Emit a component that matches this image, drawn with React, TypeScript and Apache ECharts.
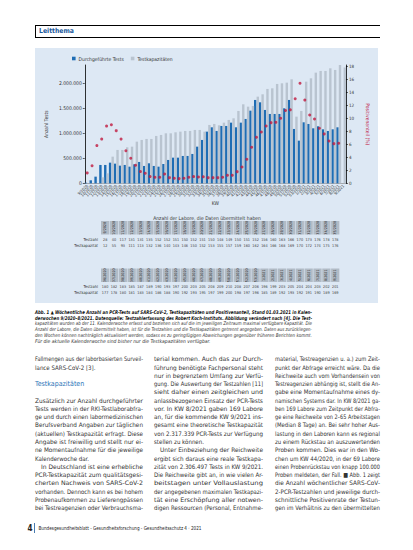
import React, { useEffect, useRef } from "react";
import * as echarts from "echarts";

// ---------- chart data ----------
const weeks = [
  "9/2020", "10/2020", "11/2020", "12/2020", "13/2020", "14/2020", "15/2020", "16/2020", "17/2020",
  "18/2020", "19/2020", "20/2020", "21/2020", "22/2020", "23/2020", "24/2020", "25/2020", "26/2020",
  "27/2020", "28/2020", "29/2020", "30/2020", "31/2020", "32/2020", "33/2020", "34/2020", "35/2020",
  "36/2020", "37/2020", "38/2020", "39/2020", "40/2020", "41/2020", "42/2020", "43/2020", "44/2020",
  "45/2020", "46/2020", "47/2020", "48/2020", "49/2020", "50/2020", "51/2020", "52/2020", "53/2020",
  "1/2021", "2/2021", "3/2021", "4/2021", "5/2021", "6/2021", "7/2021", "8/2021", "9/2021",
];

const testsDone = [
  12000, 60000, 133000, 367000, 367000, 413000, 393000, 353000, 367000,
  333000, 380000, 427000, 347000, 400000, 347000, 333000, 387000, 467000,
  513000, 513000, 547000, 547000, 587000, 733000, 867000, 1033000, 1120000,
  1047000, 1147000, 1147000, 1213000, 1120000, 1213000, 1287000, 1453000, 1667000,
  1620000, 1467000, 1387000, 1387000, 1387000, 1500000, 1667000, 1087000, 853000,
  1220000, 1187000, 1100000, 1140000, 1080000, 1047000, 1080000, 1120000, null,
];

const testCapacity = [
  null, null, null, 120000, 200000, 533000, 667000, 667000, 720000,
  733000, 833000, 867000, 887000, 887000, 947000, 967000, 1000000, 1000000,
  1020000, 1033000, 1047000, 1047000, 1067000, 1067000, 1033000, 1167000, 1187000,
  1160000, 1213000, 1267000, 1300000, 1447000, 1580000, 1533000, 1547000, 1733000,
  1780000, 1887000, 1900000, 1987000, 2000000, 2013000, 2080000, 1333000, 1447000,
  2033000, 2100000, 2213000, 2247000, 2247000, 2300000, 2267000, 2367000, 2317000,
];

const positiveRate = [
  1.6, 2.7, 5.8, 6.8, 8.8, 9.0, 8.1, 6.8, 5.0,
  3.85, 2.77, 1.8, 1.54, 1.03, 0.92, 0.92, 1.44, 0.87,
  0.77, 0.72, 0.77, 0.92, 1.03, 0.97, 1.0, 0.87, 0.87,
  0.87, 0.92, 1.23, 1.23, 1.79, 2.51, 3.69, 5.54, 7.08,
  7.9, 8.82, 9.33, 9.38, 10.0, 11.2, 11.3, 13.0, 15.4,
  12.8, 10.5, 9.9, 8.46, 7.6, 6.5, 6.1, 6.15, null,
];

const seriesNames = ["Durchgeführte Tests", "Testkapazitäten"];
const leftAxisName = "Anzahl Tests";
const rightAxisName = "Positivenanteil (%)";
const xAxisName = "KW";

// ---------- table data ----------
const tableTitle = "Anzahl der Labore, die Daten übermittelt haben";
const rowLabels = ["Testzahl", "Testkapazität"];
const labsTestsA = [28, 40, 117, 131, 131, 135, 152, 152, 151, 150, 152, 151, 150, 148, 149, 150, 151, 152, 156, 160, 163, 166, 170, 173, 176, 178, 178];
const labsCapA = [12, 55, 93, 111, 113, 132, 136, 140, 143, 146, 150, 152, 153, 155, 157, 159, 160, 162, 164, 166, 168, 169, 170, 172, 174, 175, 176];
const labsTestsB = [180, 182, 183, 185, 187, 189, 190, 193, 197, 200, 203, 205, 208, 209, 210, 208, 207, 206, 196, 199, 203, 205, 204, 204, 203, 202, 201];
const labsCapB = [177, 178, 180, 181, 183, 184, 186, 188, 190, 192, 193, 195, 197, 199, 200, 198, 197, 196, 185, 189, 192, 193, 192, 191, 190, 189, 169];

// ---------- page text ----------
const caption: [string, boolean][] = [
  ["Abb. 1 ▲ Wöchentliche Anzahl an PCR-Tests auf SARS-CoV-2, Testkapazitäten und Positivenanteil, Stand 01.03.2021 in Kalen-", true],
  ["derwochen 9/2020–8/2021. Datenquelle: Testzahlerfassung des Robert Koch-Instituts. Abbildung verändert nach [4]. Die Test-", true],
  ["kapazitäten wurden ab der 11. Kalenderwoche erfasst und beziehen sich auf die im jeweiligen Zeitraum maximal verfügbare Kapazität. Die", true],
  ["Anzahl der Labore, die Daten übermittelt haben, ist für die Testzahlen und die Testkapazitäten getrennt angegeben. Daten aus zurückliegen-", true],
  ["den Wochen können nachträglich aktualisiert werden, sodass es zu geringfügigen Abweichungen gegenüber früheren Berichten kommt.", true],
  ["Für die aktuelle Kalenderwoche sind bisher nur die Testkapazitäten verfügbar.", false],
];

type Line = [string, string];
const col1: Line[] = [
  ["Fallmengen aus der laborbasierten Surveil-", "j"],
  ["lance SARS-CoV-2 [3].", "l"],
  ["", "l"],
  ["Testkapazitäten", "h"],
  ["", "l"],
  ["Zusätzlich zur Anzahl durchgeführter", "j"],
  ["Tests werden in der RKI-Testlaborabfra-", "j"],
  ["ge und durch einen labormedizinischen", "j"],
  ["Berufsverband Angaben zur täglichen", "j"],
  ["(aktuellen) Testkapazität erfragt. Diese", "j"],
  ["Angabe ist freiwillig und stellt nur ei-", "j"],
  ["ne Momentaufnahme für die jeweilige", "j"],
  ["Kalenderwoche dar.", "l"],
  ["In Deutschland ist eine erhebliche", "i"],
  ["PCR-Testkapazität zum qualitätsgesi-", "j"],
  ["cherten Nachweis von SARS-CoV-2", "j"],
  ["vorhanden. Dennoch kann es bei hohem", "j"],
  ["Probenaufkommen zu Lieferengpässen", "j"],
  ["bei Testreagenzien oder Verbrauchsma-", "j"],
];
const col2: Line[] = [
  ["terial kommen. Auch das zur Durch-", "j"],
  ["führung benötigte Fachpersonal steht", "j"],
  ["nur in begrenztem Umfang zur Verfü-", "j"],
  ["gung. Die Auswertung der Testzahlen [11]", "j"],
  ["sieht daher einen zeitgleichen und", "j"],
  ["anlassbezogenen Einsatz der PCR-Tests", "j"],
  ["vor. In KW 8/2021 gaben 169 Labore", "j"],
  ["an, für die kommende KW 9/2021 ins-", "j"],
  ["gesamt eine theoretische Testkapazität", "j"],
  ["von 2.317.339 PCR-Tests zur Verfügung", "j"],
  ["stellen zu können.", "l"],
  ["Unter Einbeziehung der Reichweite", "i"],
  ["ergibt sich daraus eine reale Testkapa-", "j"],
  ["zität von 2.306.497 Tests in KW 9/2021.", "j"],
  ["Die Reichweite gibt an, in wie vielen Ar-", "j"],
  ["beitstagen unter Vollauslastung", "j"],
  ["der angegebenen maximalen Testkapazi-", "j"],
  ["tät eine Erschöpfung aller notwen-", "j"],
  ["digen Ressourcen (Personal, Entnahme-", "j"],
];
const col3: Line[] = [
  ["material, Testreagenzien u. a.) zum Zeit-", "j"],
  ["punkt der Abfrage erreicht wäre. Da die", "j"],
  ["Reichweite auch vom Vorhandensein von", "j"],
  ["Testreagenzien abhängig ist, stellt die An-", "j"],
  ["gabe eine Momentaufnahme eines dy-", "j"],
  ["namischen Systems dar. In KW 8/2021 ga-", "j"],
  ["ben 169 Labore zum Zeitpunkt der Abfra-", "j"],
  ["ge eine Reichweite von 2–65 Arbeitstagen", "j"],
  ["(Median 8 Tage) an. Bei sehr hoher Aus-", "j"],
  ["lastung in den Laboren kann es regional", "j"],
  ["zu einem Rückstau an auszuwertenden", "j"],
  ["Proben kommen. Dies war in den Wo-", "j"],
  ["chen um KW 44/2020, in der 69 Labore", "j"],
  ["einen Probenrückstau von knapp 100.000", "j"],
  ["Proben meldeten, der Fall. ■ Abb. 1 zeigt", "j"],
  ["die Anzahl wöchentlicher SARS-CoV-", "j"],
  ["2-PCR-Testzahlen und jeweilige durch-", "j"],
  ["schnittliche Positivenrate der Testun-", "j"],
  ["gen im Verhältnis zu den übermittelten", "j"],
];
const footerText = "Bundesgesundheitsblatt - Gesundheitsforschung - Gesundheitsschutz 4 · 2021";

// ---------- styles ----------
const FONT = "'Liberation Sans Narrow','DejaVu Sans Condensed','Roboto Condensed','Liberation Sans',Arial,sans-serif";
const BLUE = "#1f6db4";
const GREY = "#b9c4d0";
const RED = "#c0193f";
const PANEL = "#dde8f4";

const fmt = (v: number) => String(v).replace(/\B(?=(\d{3})+(?!\d))/g, ".");

function buildTable(): any[] {
  const els: any[] = [];
  els.push({
    type: "text", x: 172, y: 169.5, silent: true,
    style: { text: tableTitle, fontSize: 5, fontFamily: FONT, fill: "#333", align: "center", verticalAlign: "middle" },
  });
  const blocks = [
    { y0: 173, weeks: weeks.slice(0, 27), rows: [labsTestsA, labsCapA] },
    { y0: 220.5, weeks: weeks.slice(27), rows: [labsTestsB, labsCapB] },
  ];
  const left = 66, pitch = 8.85, hh = 13.5;
  blocks.forEach((b) => {
    b.weeks.forEach((w, i) => {
      const x = left + i * pitch;
      els.push({ type: "rect", silent: true, shape: { x, y: b.y0, width: pitch - 0.6, height: hh }, style: { fill: "#b1bbc6" } });
      els.push({
        type: "text", silent: true, x: x + pitch / 2 - 0.3, y: b.y0 + hh / 2, rotation: Math.PI / 2,
        style: { text: w, fontSize: 3.7, fontFamily: FONT, fill: "#2a2a2a", align: "center", verticalAlign: "middle" },
      });
    });
    b.rows.forEach((row, r) => {
      const ry = b.y0 + hh + 4.5 + r * 6;
      els.push({
        type: "text", silent: true, x: 63, y: ry,
        style: { text: rowLabels[r], fontSize: 4, fontFamily: FONT, fill: "#333", align: "right", verticalAlign: "middle" },
      });
      row.forEach((v, i) => {
        els.push({
          type: "text", silent: true, x: left + i * pitch + pitch / 2 - 0.3, y: ry,
          style: { text: v == null ? "–" : String(v), fontSize: 3.8, fontFamily: FONT, fill: "#444", align: "center", verticalAlign: "middle" },
        });
      });
    });
  });
  return els;
}

function Chart() {
  const ref = useRef<HTMLDivElement>(null);
  useEffect(() => {
    if (!ref.current) return;
    const chart = echarts.init(ref.current, null, { renderer: "svg" });
    chart.setOption({
      animation: false,
      backgroundColor: PANEL,
      textStyle: { fontFamily: FONT },
      legend: {
        data: seriesNames, left: 37, top: 8, padding: 0, icon: "rect",
        itemWidth: 3.6, itemHeight: 3.6, itemGap: 7,
        textStyle: { fontSize: 5, color: "#333", fontFamily: FONT, padding: [0, 0, 0, -2] },
      },
      grid: { left: 33.3, right: 18.7, top: 17, height: 118.3 },
      xAxis: {
        type: "category", data: weeks, boundaryGap: true,
        name: xAxisName, nameLocation: "middle", nameGap: 14,
        nameTextStyle: { fontSize: 5, color: "#333" },
        axisLine: { lineStyle: { color: "#666", width: 0.5 } },
        axisTick: { show: false },
        axisLabel: { interval: 0, rotate: 45, fontSize: 4, margin: 2, color: "#333" },
      },
      yAxis: [
        {
          type: "value", min: 0, max: 2366000, interval: 500000,
          name: leftAxisName, nameLocation: "middle", nameGap: 21, nameRotate: 90,
          nameTextStyle: { fontSize: 5, color: "#333" },
          axisLine: { show: true, lineStyle: { color: "#000", width: 0.8 } },
          axisTick: { show: true, length: 2, lineStyle: { color: "#000", width: 0.6 } },
          splitLine: { show: false },
          axisLabel: { fontSize: 5, color: "#333", margin: 3, showMaxLabel: false, formatter: (v: number) => fmt(v) },
        },
        {
          type: "value", min: 0, max: 18.2, interval: 2, position: "right",
          name: rightAxisName, nameLocation: "middle", nameGap: 8, nameRotate: -90,
          nameTextStyle: { fontSize: 5, color: RED },
          axisLine: { show: true, lineStyle: { color: "#000", width: 0.8 } },
          axisTick: { show: true, length: 2, lineStyle: { color: "#000", width: 0.6 } },
          splitLine: { show: false },
          axisLabel: { fontSize: 4.5, color: "#333", margin: 3, showMaxLabel: false },
        },
      ],
      series: [
        { name: seriesNames[0], type: "bar", data: testsDone, barWidth: 2.4, barGap: "8%", itemStyle: { color: BLUE } },
        { name: seriesNames[1], type: "bar", data: testCapacity, barWidth: 2.4, itemStyle: { color: GREY } },
        {
          name: rightAxisName, type: "scatter", yAxisIndex: 1, data: positiveRate,
          symbol: "circle", symbolSize: 3, itemStyle: { color: RED },
        },
      ],
      graphic: buildTable(),
    });
    return () => chart.dispose();
  }, []);
  return <div ref={ref} style={{ position: "absolute", left: 35, top: 48, width: 343, height: 255 }} />;
}

function Column({ lines, x, w }: { lines: Line[]; x: number; w: number }) {
  const y0 = 361.3, lh = 8.27;
  return (
    <g>
      {lines.map(([t, mode], i) => {
        if (!t) return null;
        const y = y0 + i * lh;
        if (mode === "h") {
          return <text key={i} x={x} y={y + 0.3} fontSize={7} fill="#2b74b8">{t}</text>;
        }
        const indent = mode === "i" ? 6 : 0;
        const just = mode === "j" || mode === "i";
        return (
          <text key={i} x={x + indent} y={y} fontSize={6.1}
            {...(just ? { textLength: w - indent, lengthAdjust: "spacingAndGlyphs" } : {})}>
            {t}
          </text>
        );
      })}
    </g>
  );
}

export default function App() {
  return (
    <div style={{ position: "absolute", left: 0, top: 0, width: 413, height: 550, background: "#fff", overflow: "hidden", fontFamily: FONT }}>
      <div style={{
        position: "absolute", left: 35, top: 25, width: 345, height: 12.5, boxSizing: "border-box",
        borderTop: "1px solid #000", borderBottom: "1px solid #000", borderLeft: "1px solid #000",
      }}>
        <span style={{ position: "absolute", left: 3, top: 1.3, fontSize: 6.8, fontWeight: 700, color: "#1b5a9c", lineHeight: "8px" }}>Leitthema</span>
      </div>
      <Chart />
      <svg width={413} height={550} style={{ position: "absolute", left: 0, top: 0, pointerEvents: "none" }}
        fontFamily={FONT} fill="#333">
        {caption.map(([t, just], i) => (
          <text key={i} x={35} y={313.6 + i * 5.9} fontSize={5} fontStyle="italic"
            fontWeight={i < 2 ? 700 : 400} fill={i < 2 ? "#111" : "#333"}
            {...(just ? { textLength: 277, lengthAdjust: "spacingAndGlyphs" } : {})}>
            {t}
          </text>
        ))}
        <Column lines={col1} x={35} w={108} />
        <Column lines={col2} x={154} w={109} />
        <Column lines={col3} x={275} w={105} />
        <text x={27.5} y={531} fontSize={8} fontWeight={700} fill="#222">4</text>
        <line x1={34.5} y1={523} x2={34.5} y2={533} stroke="#1b5a9c" strokeWidth={0.8} />
        <text x={38.5} y={530} fontSize={5.4} fill="#222" textLength={163} lengthAdjust="spacingAndGlyphs">{footerText}</text>
      </svg>
    </div>
  );
}
